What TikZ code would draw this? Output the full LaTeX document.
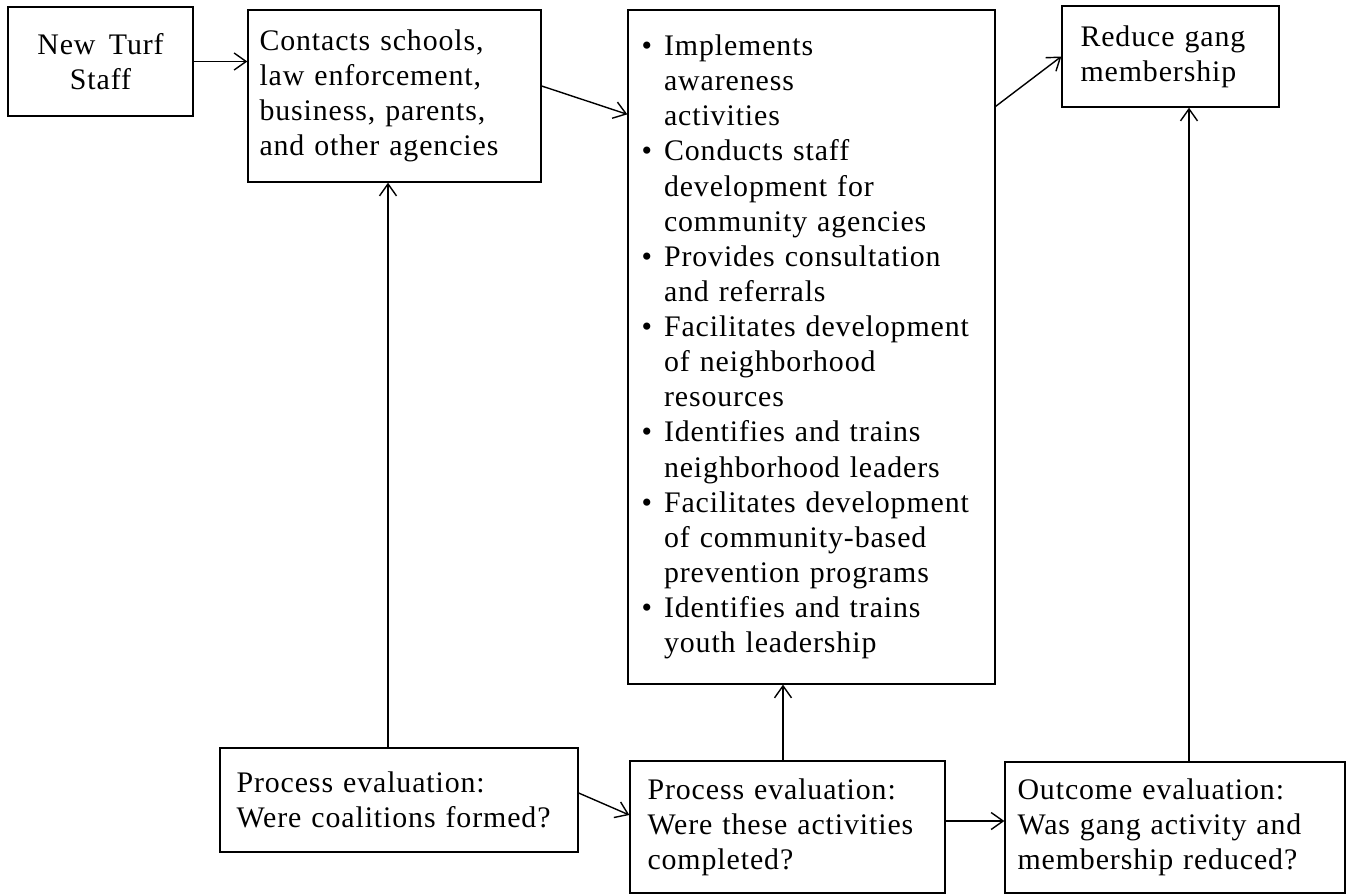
\documentclass[tikz,border=0pt]{standalone}
\usepackage{fontspec}
\setmainfont{Liberation Serif}[LetterSpace=3,WordSpace=1.6]
\usetikzlibrary{arrows.meta}
\newcommand{\bul}{\makebox[0.45cm][l]{\textbullet}}
\newcommand{\ind}{\hspace*{0.45cm}}

\begin{document}
\begin{tikzpicture}[x=0.02cm, y=-0.02cm, auto,
  >={Straight Barb[length=2.4mm,width=3.4mm]},
  stage/.style ={rectangle, draw, thick, align=left,
    font=\fontsize{17}{20}\selectfont}]
 \useasboundingbox (0,0) rectangle (1354,895);
 \node[stage, align=center, minimum width=3.7cm, minimum height=2.18cm] (A) at (100.5,61.5) {New Turf\\Staff};
 \node[stage, text width=5.4cm, minimum width=5.86cm, minimum height=3.44cm] (B) at (394.5,96) {Contacts schools,\\law enforcement,\\business, parents,\\and other agencies};
 \node[stage, text width=6.8cm, minimum width=7.34cm, minimum height=13.48cm] (C) at (811.5,347) {%
  \bul Implements\\\ind awareness\\\ind activities\\
  \bul Conducts staff\\\ind development for\\\ind community agencies\\
  \bul Provides consultation\\\ind and referrals\\
  \bul Facilitates development\\\ind of neighborhood\\\ind resources\\
  \bul Identifies and trains\\\ind neighborhood leaders\\
  \bul Facilitates development\\\ind of community-based\\\ind prevention programs\\
  \bul Identifies and trains\\\ind youth leadership};
 \node[stage, text width=3.6cm, minimum width=4.34cm, minimum height=2.02cm] (D) at (1170.5,56.5) {Reduce gang\\membership};
 \node[stage, text width=6.5cm, minimum width=7.16cm, minimum height=2.08cm] (E) at (399,800) {Process evaluation:\\Were coalitions formed?};
 \node[stage, text width=5.6cm, minimum width=6.3cm, minimum height=2.64cm] (F) at (787.5,827) {Process evaluation:\\Were these activities\\completed?};
 \node[stage, text width=6.3cm, minimum width=6.8cm, minimum height=2.62cm] (G) at (1175,827.5) {Outcome evaluation:\\Was gang activity and\\membership reduced?};

 \draw[thick, ->] (A) -- (A -| B.west);
 \draw[thick, ->] ([yshift=0.2cm]B.east) -- ([yshift=-2.1cm]C.north west);
 \draw[thick, ->] ([yshift=-1.94cm]C.north east) -- (D.west);
 \draw[thick, ->] ([xshift=-0.22cm]E.north) -- ([xshift=-0.22cm]E.north |- B.south);
 \draw[thick, ->] ([yshift=0.14cm]E.east) -- ([yshift=0.24cm]F.west);
 \draw[thick, ->] ([xshift=-0.09cm]F.north) -- ([xshift=-0.09cm]F.north |- C.south);
 \draw[thick, ->] ([yshift=0.12cm]F.east) -- ([yshift=0.12cm]F.east -| G.west);
 \draw[thick, ->] ([xshift=0.28cm]G.north) -- ([xshift=0.28cm]G.north |- D.south);
\end{tikzpicture}
\end{document}
